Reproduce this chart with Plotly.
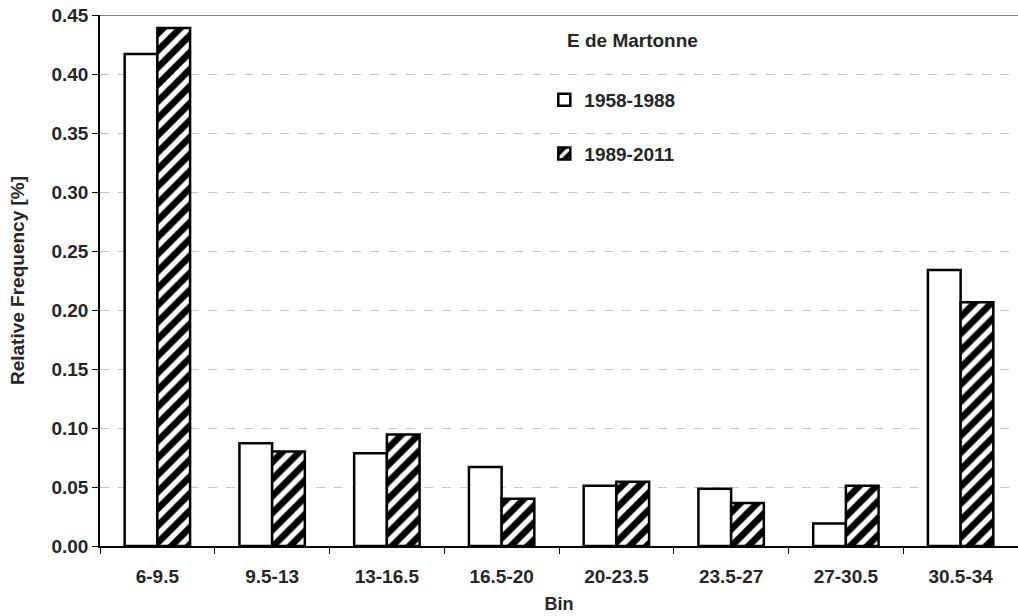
import plotly.graph_objects as go

bins = ["6-9.5", "9.5-13", "13-16.5", "16.5-20", "20-23.5", "23.5-27", "27-30.5", "30.5-34"]
period_1958_1988 = [0.417, 0.087, 0.0785, 0.067, 0.051, 0.0485, 0.019, 0.234]
period_1989_2011 = [0.439, 0.080, 0.0945, 0.040, 0.0545, 0.0365, 0.051, 0.2065]
y_ticks = [0.00, 0.05, 0.10, 0.15, 0.20, 0.25, 0.30, 0.35, 0.40, 0.45]

font_family = "Liberation Sans, Arial, sans-serif"
txt_col = "#262626"

fig = go.Figure()
fig.add_trace(go.Bar(
    x=bins, y=period_1958_1988, name="1958-1988", legendgroup="a",
    marker=dict(color="white", line=dict(color="black", width=2.5)),
))
fig.add_trace(go.Bar(
    x=bins, y=period_1989_2011, name="1989-2011", legendgroup="b",
    marker=dict(color="black", line=dict(color="black", width=2.5),
                pattern=dict(shape="/", bgcolor="black", fgcolor="#ffffff", fgopacity=1,
                             fillmode="overlay", size=12, solidity=0.45)),
))

fig.update_layout(
    width=1018, height=616,
    margin=dict(l=100, r=0, t=15, b=70),
    paper_bgcolor="white", plot_bgcolor="white",
    barmode="group", bargap=0.43, bargroupgap=0,
    font=dict(family=font_family, color=txt_col, size=18, weight="bold"),
    showlegend=True,
    legend=dict(x=0.484, y=0.876, xanchor="left", yanchor="top",
                bgcolor="rgba(0,0,0,0)", tracegroupgap=26,
                font=dict(size=19, family=font_family, color=txt_col, weight="bold")),
    xaxis=dict(
        type="category", showline=True, linecolor="black", linewidth=1.5,
        ticks="outside", tickson="boundaries", ticklen=6, tickcolor="black",
        ticklabelstandoff=12,
        tickfont=dict(size=19, family=font_family, color=txt_col, weight="bold"),
        automargin=False,
        title=dict(text="Bin", font=dict(size=18, weight="bold"), standoff=12),
        showgrid=False,
    ),
    yaxis=dict(
        range=[0, 0.45], tickvals=y_ticks, tickformat=".2f",
        automargin=False,
        showline=True, linecolor="black", linewidth=1.5,
        ticks="outside", ticklen=6, tickcolor="black",
        showgrid=True, gridcolor="#c8c8c8", griddash="dash", gridwidth=1,
        zeroline=False,
        tickfont=dict(size=19, family=font_family, color=txt_col, weight="bold"),
        title=dict(text="Relative Frequency [%]", font=dict(size=19, weight="bold"), standoff=22),
    ),
    shapes=[dict(type="line", xref="paper", yref="y", x0=0, x1=1, y0=0.45, y1=0.45,
                 line=dict(color="#555555", width=1.5))],
    annotations=[dict(text="E de Martonne", xref="paper", yref="paper",
                      x=0.507, y=0.952, xanchor="left", yanchor="middle", showarrow=False,
                      font=dict(size=19, family=font_family, color=txt_col, weight="bold"))],
)

fig.write_html("out.html", config={"displayModeBar": False},
               post_script="document.body.style.margin='0';document.body.style.padding='0';")
